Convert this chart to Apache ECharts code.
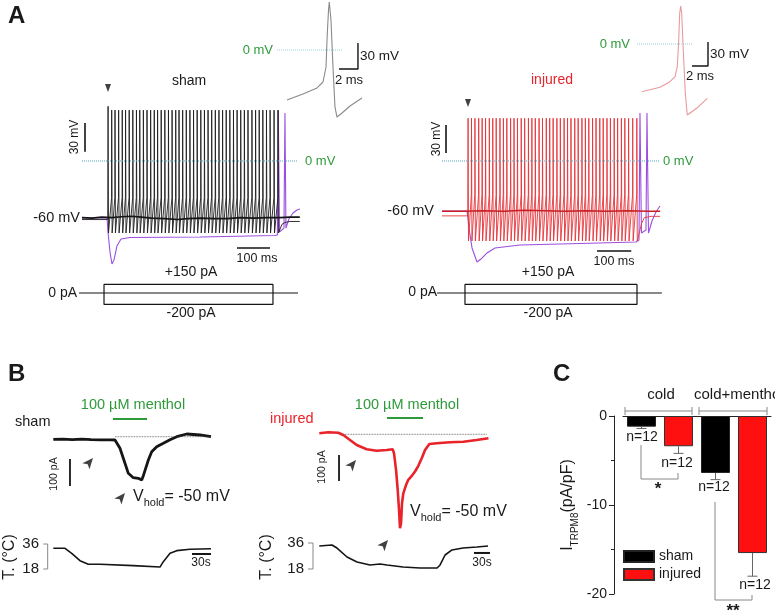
<!DOCTYPE html>
<html><head><meta charset="utf-8">
<script src="https://cdn.jsdelivr.net/npm/echarts@6.0.0/dist/echarts.min.js"></script>
<style>html,body{margin:0;padding:0;background:#fff}#c{width:775px;height:614px}</style>
</head><body><div id="c"></div><script>
// ---------------- DATA ----------------
// Panel A: spike trains (ms) and levels (mV)
const shamSpikeTimes = [79,90,100,111,122,132,143,154,165,175,186,197,208,219,229,240,251,262,273,284,294,305,316,327,338,349,360,371,382,393,404,415,426,437,448,459,470,481,492,503,515,526,537,548,559,570,582,594];
const injSpikeTimes = [76,86,96,107,117,127,138,148,158,169,179,189,200,210,220,231,241,252,262,272,283,293,304,314,324,335,345,356,366,376,387,397,408,418,428,439,449,460,470,481,491,502,512,523,533,544,556,568];
const shamSpikeLevels = [-38, 53, 57, -75];   // threshold, peak, first peak, trough
const injSpikeLevels = [-36, 46, 46, -86];
const shamRest = [[0,-61],[78,-61]];
const shamAfter = [[600,-71],[606,-66],[615,-64],[630,-63],[660,-63]];
const injRest = [[0,-59],[75,-59]];
const injAfter = [[575,-84],[582,-67],[590,-61],[610,-59.5],[636,-59.5]];
const shamFlat = [[0,-59],[30,-59.5],[60,-58.5],[90,-59],[120,-58],[150,-57.5],[180,-58.5],[210,-59.5],[250,-60],[290,-61],[320,-60],[360,-59.5],[400,-60],[440,-60],[480,-59],[520,-59.5],[560,-59],[600,-59],[630,-58.5],[660,-58.5]];
const injFlat = [[0,-54],[60,-54],[120,-53.5],[180,-54],[240,-53],[300,-53.5],[360,-54],[420,-53.5],[480,-54],[540,-53.5],[600,-54],[636,-54]];
const shamPurple = [[0,-59.4],[75.8,-59.4],[78.8,-74],[84.8,-94.8],[90.9,-107.3],[97,-103],[106,-88.5],[118.2,-81.3],[145.5,-79.7],[357.6,-79.2],[584.8,-77.6],[592,-77],[594.8,53],[598.5,-74],[612,-70],[615,50],[618,-70],[627,-60.4],[639.3,-54.2],[651.5,-51],[660.5,-50]];
const injPurple = [[0,-53.8],[72.9,-53.8],[78.7,-72],[87.5,-93.5],[102,-108.6],[113.7,-105.4],[131.2,-98.9],[154.5,-93.5],[227.4,-90.3],[402.3,-88.7],[565.5,-87.1],[574.3,-85],[577.2,51.6],[581.5,-77.4],[594.7,-74.2],[597.6,51.6],[602,-77.4],[612.2,-64.5],[623.8,-54.8],[635.5,-48.4]];
const shamInset = [[0,-57.7],[1.68,-50.7],[3.16,-43.8],[3.79,-36.9],[4.11,-19.6],[4.21,11.5],[4.37,46.1],[4.45,55.4],[4.63,34.6],[4.84,-19.6],[5.05,-65.7],[5.26,-77.3],[5.79,-72.7],[6.63,-64.6],[7.89,-55.4]];
const injInset = [[-0.04,-59.6],[2.25,-54.1],[3.5,-47.1],[4.13,-40.9],[4.41,-28.4],[4.59,5],[4.71,38.4],[4.84,47.5],[4.96,38.4],[5.16,-7.5],[5.41,-61.6],[5.66,-88.75],[5.88,-90.9],[6.84,-80.4],[8.16,-67.9]];
const shamStepOnOff = [66.7, 578.7];
const injStepOnOff = [67, 568.5];
const stepAmps = [150, -200];

// Panel B: TRPM8 currents (s, pA) and bath temperature (s, °C)
const shamCurrent = [[0,0],[15,1],[30,-1],[45,1],[60,-1],[75,-2],[90,-2],[97.6,-2.6],[105.5,-33.3],[113.4,-88.9],[118.7,-126],[126.6,-142.2],[134.5,-144.4],[137,-140],[139.9,-150.7],[142,-138],[145.1,-132.2],[150.4,-76.7],[155.7,-46],[163.6,-27.4],[174.1,-14.8],[184.7,-1.9],[195.3,9.6],[211.1,19.6],[232.1,16],[249.5,9.6]];
const shamTemp = [[0,32.9],[18.5,32.9],[29.1,29.3],[42.2,24],[55.4,21.4],[73.9,21.4],[126.6,20.4],[168.8,19.4],[174.1,23.3],[184.7,29.3],[195.3,31.2],[216.3,32.2],[249.5,32.6]];
const injCurrent = [[0,0],[16.9,3.8],[35.6,2.3],[45,-6.5],[57.6,-25.8],[70.2,-45],[88.9,-61.5],[107.7,-66.9],[126.5,-64.2],[137.8,-61.5],[140.2,-76.9],[144,-141],[147.1,-218],[149.6,-295],[151.4,-365],[153.3,-346],[155.2,-269],[157.6,-231],[162.7,-199],[167,-179],[173.4,-164],[179.6,-147],[185.8,-125],[192.2,-96],[198.4,-64],[206.5,-41],[220.3,-38.5],[245.2,-34.6],[270.2,-32.3],[295.3,-25.8],[317.3,-19.2]];
const injTemp = [[0,33.9],[23.8,34.6],[33.2,32.5],[52,26.3],[70.7,22.8],[95.1,20.8],[113.9,21.5],[127,20.8],[157,19.4],[189,18.7],[221,18.7],[226.6,20.8],[236,27.7],[249,31.2],[269.6,32.5],[295.9,33.2],[316.5,33.9]];
const shamMenthol = [94.5, 148.3];
const injMenthol = [127, 194.6];
const shamArrows = [[62.8,-69],[113.4,-199]];
const injArrows = [[68.9,-102.7],[128.9,-410]];

// Panel C: I_TRPM8 (pA/pF)
const barCategories = ['cold', 'cold+menthol'];
const shamMeans = [-1.2, -6.4];
const injMeans = [-3.4, -15.4];
const shamErr = [0.2, 0.75];
const injErr = [0.8, 2.6];
const yTicksC = [0, -10, -20];

// ---------------- LAYOUT ----------------
const FONT = '"Liberation Sans", Arial, Helvetica, sans-serif';
const BLACK = '#151515', RED = '#e8232a', PURPLE = '#9b4fe0', GREEN = '#2e9a3a', TEAL = '#55a9c2';

// box [l,t,r,b]; x:[refPx, refVal, unitsPerPx]; y:[refPx, refVal, unitsPerPx]
const layouts = [
  {box:[60,78,312,276],  x:[82,0,100/33],    y:[161,0,1/0.96]},
  {box:[268,0,372,126],  x:[287,0,1/9.5],    y:[50,0,1/0.867]},
  {box:[70,277,305,311], x:[82,0,100/33],    y:[293,0,1/0.0571]},
  {box:[425,84,672,276], x:[442,0,100/34.3], y:[161,0,1/0.93]},
  {box:[628,0,722,126],  x:[642,0,1/8],      y:[44,0,1/0.8]},
  {box:[430,277,672,311],x:[442,0,100/34.3], y:[293,0,1/0.0571]},
  {box:[38,408,216,506], x:[53.3,0,1/0.632], y:[439.3,0,1/0.27]},
  {box:[38,538,216,576], x:[53.3,0,1/0.632], y:[544,36,1/1.389]},
  {box:[300,408,496,548],x:[319.3,0,1/0.533],y:[433.3,0,1/0.26]},
  {box:[300,538,496,576],x:[319.3,0,1/0.533],y:[543,36,1/1.444]}
];
const grids = [], xAxes = [], yAxes = [];
layouts.forEach((L, i) => {
  const [l,t,r,b] = L.box;
  grids.push({left:l, top:t, width:r-l, height:b-t, outerBoundsMode:'none'});
  xAxes.push({type:'value', gridIndex:i, show:false, min:L.x[1]+(l-L.x[0])*L.x[2], max:L.x[1]+(r-L.x[0])*L.x[2]});
  yAxes.push({type:'value', gridIndex:i, show:false, max:L.y[1]+(L.y[0]-t)*L.y[2], min:L.y[1]-(b-L.y[0])*L.y[2]});
});
// Panel C grid
grids.push({left:623, top:416, width:148, height:178, outerBoundsMode:'none'});
xAxes.push({type:'category', gridIndex:10, data:barCategories, position:'top',
  axisLine:{show:true, lineStyle:{color:'#222', width:1}}, axisTick:{show:false}, axisLabel:{show:false}});
yAxes.push({type:'value', gridIndex:10, min:yTicksC[2], max:yTicksC[0], interval:10, offset:9,
  axisLine:{show:true, lineStyle:{color:'#222', width:1}},
  axisTick:{show:true, length:5, lineStyle:{color:'#222'}},
  minorTick:{show:true, splitNumber:2, length:3, lineStyle:{color:'#222'}},
  splitLine:{show:false},
  axisLabel:{fontSize:14, color:'#1a1a1a', fontFamily:FONT, margin:7},
  name:'{i|I}{s|TRPM8}{i|(pA/pF)}', nameLocation:'middle', nameRotate:90, nameGap:34,
  nameTextStyle:{rich:{
    i:{fontSize:16, fontFamily:FONT, color:'#1a1a1a', lineHeight:24, verticalAlign:'middle'},
    s:{fontSize:10, fontFamily:FONT, color:'#1a1a1a', lineHeight:13, verticalAlign:'bottom'}}}
});

// ---------------- SERIES ----------------
const series = [];
function line(gi, data, color, width, type, z) {
  series.push({type:'line', xAxisIndex:gi, yAxisIndex:gi, data, symbol:'none', showSymbol:false,
    silent:true, animation:false, clip:false, z:z||2,
    lineStyle:{color, width, type:type||'solid', join:'bevel', cap:'butt'}});
}
function marks(gi, data, symbol, size, rot) {
  series.push({type:'scatter', xAxisIndex:gi, yAxisIndex:gi, data, symbol, symbolSize:size, symbolRotate:rot,
    silent:true, animation:false, itemStyle:{color:'#111'}, z:5});
}
function buildSpikes(times, lv, pre, post) {
  const pts = pre.slice();
  times.forEach((t, i) => {
    if (i > 0) pts.push([t - 0.4, lv[0]]);
    pts.push([t, i === 0 ? lv[2] : lv[1]]);
    pts.push([t + 1.3, lv[3]]);
  });
  return pts.concat(post);
}
function rect(on, off) {
  return [[on,0],[on,stepAmps[0]],[off,stepAmps[0]],[off,stepAmps[1]],[on,stepAmps[1]],[on,0]];
}
// A sham
line(0, shamPurple, PURPLE, 1.1);
line(0, buildSpikes(shamSpikeTimes, shamSpikeLevels, shamRest, shamAfter), '#1e1e1e', 0.9);
line(0, shamFlat, BLACK, 1.6, 'solid', 3);
line(0, [[0,0],[654.5,0]], TEAL, 1, 'dotted', 4);
line(0, [[9.1,39.6],[9.1,9.6]], BLACK, 1.6);
line(0, [[469.7,-90.6],[569.7,-90.6]], BLACK, 1.6);
marks(0, [[78.8,76]], 'triangle', [6,8], 180);
line(1, shamInset, '#8a8a8a', 1.1);
line(1, [[-1.05,0],[5.79,0]], '#9ccbd6', 1, 'dotted');
line(1, [[5.47,-21.9],[7.47,-21.9],[7.47,8.1]], BLACK, 1.4);
line(2, [[-9,0],[654.5,0]], BLACK, 1.2);
line(2, rect(shamStepOnOff[0], shamStepOnOff[1]), BLACK, 1.2);
// A injured
line(3, injPurple, PURPLE, 1.1);
line(3, buildSpikes(injSpikeTimes, injSpikeLevels, injRest, injAfter), '#e5343a', 0.9);
line(3, injFlat, '#c81e24', 1.6, 'solid', 3);
line(3, [[0,0],[635.5,0]], TEAL, 1, 'dotted', 4);
line(3, [[11.7,38.7],[11.7,8.7]], BLACK, 1.6);
line(3, [[451.8,-96.8],[551.8,-96.8]], BLACK, 1.6);
marks(3, [[75.8,62.4]], 'triangle', [6,8], 180);
line(4, injInset, '#e99a9a', 1.1);
line(4, [[-0.625,0],[6.375,0]], '#9ccbd6', 1, 'dotted');
line(4, [[6.25,-27.5],[8.25,-27.5],[8.25,2.5]], BLACK, 1.4);
line(5, [[-14.6,0],[641,0]], BLACK, 1.2);
line(5, rect(injStepOnOff[0], injStepOnOff[1]), BLACK, 1.2);
// B sham
line(6, shamCurrent, BLACK, 2.8);
line(6, [[97.6,9.6],[249.5,9.6]], '#444', 0.8, 'dotted');
line(6, [[26.4,-73],[26.4,-173]], BLACK, 1.8);
line(6, [[shamMenthol[0],75.2],[shamMenthol[1],75.2]], GREEN, 2);
marks(6, shamArrows, 'arrow', [7,11], -40);
line(7, shamTemp, BLACK, 1.6);
line(7, [[-15.8,36],[-8.9,36],[-8.9,18],[-15.8,18]], '#888', 1);
line(7, [[219.5,28.8],[249.5,28.8]], BLACK, 2);
// B injured
line(8, injCurrent, RED, 2.6);
line(8, [[48.2,-3.8],[314.6,-3.8]], '#444', 0.8, 'dotted');
line(8, [[37,-83.5],[37,-183.5]], BLACK, 1.8);
line(8, [[injMenthol[0],58.8],[injMenthol[1],58.8]], GREEN, 2);
marks(8, injArrows, 'arrow', [7,11], -40);
line(9, injTemp, BLACK, 1.6);
line(9, [[-21,36],[-11.8,36],[-11.8,18],[-21,18]], '#888', 1);
line(9, [[290.2,29.1],[320.2,29.1]], BLACK, 2);
// C bars
series.push({type:'bar', name:'sham', xAxisIndex:10, yAxisIndex:10, data:shamMeans, barWidth:29, barGap:'27.6%',
  itemStyle:{color:'#000', borderColor:'#222', borderWidth:1}, animation:false, silent:true});
series.push({type:'bar', name:'injured', xAxisIndex:10, yAxisIndex:10, data:injMeans, barWidth:29, barGap:'27.6%',
  itemStyle:{color:'#ff1010', borderColor:'#333', borderWidth:1}, animation:false, silent:true});
function errSeries(vals, errs, off) {
  series.push({type:'custom', xAxisIndex:10, yAxisIndex:10, silent:true, animation:false, z:3,
    data: vals.map((v, i) => [i, v, errs[i]]),
    renderItem: (p, api) => {
      const i = api.value(0), v = api.value(1), e = api.value(2);
      const a = api.coord([i, v]), b = api.coord([i, v - e]); const x = a[0] + off;
      return {type:'group', children:[
        {type:'line', shape:{x1:x, y1:a[1], x2:x, y2:b[1]}, style:{stroke:'#666', lineWidth:1}},
        {type:'line', shape:{x1:x-5, y1:b[1], x2:x+5, y2:b[1]}, style:{stroke:'#666', lineWidth:1}}]};
    }});
}
errSeries(shamMeans, shamErr, -18.5);
errSeries(injMeans, injErr, 18.5);

// ---------------- TEXT / ANNOTATIONS ----------------
function T(text, x, y, o) {
  o = o || {};
  const st = {text, x:0, y:0, fill:o.color || '#1a1a1a', font:(o.bold ? 'bold ' : '') + (o.size || 14) + 'px ' + FONT,
    align:o.align || 'center', verticalAlign:'middle'};
  if (o.rich) st.rich = o.rich;
  return {type:'text', x, y, rotation:o.rot || 0, silent:true, z:100, style:st};
}
function P(points, color) {
  return {type:'polyline', silent:true, z:100, shape:{points}, style:{stroke:color || '#888', lineWidth:1, fill:null}};
}
const R90 = Math.PI / 2;
const vRich = {
  v:{fontSize:16, fontFamily:FONT, fill:'#1a1a1a', lineHeight:22, verticalAlign:'middle'},
  s:{fontSize:11, fontFamily:FONT, fill:'#1a1a1a', lineHeight:13, verticalAlign:'bottom'}};
const graphic = [
  T('A', 8, 16, {size:24, bold:true, align:'left'}),
  T('sham', 189, 81), T('injured', 552, 80, {color:RED}),
  T('30 mV', 75, 137, {size:12, rot:R90}), T('30 mV', 437, 139, {size:12, rot:R90}),
  T('0 mV', 305, 161, {size:13, color:GREEN, align:'left'}), T('0 mV', 663, 161, {size:13, color:GREEN, align:'left'}),
  T('-60 mV', 80, 218, {size:14.5, align:'right'}), T('-60 mV', 434, 211, {size:14.5, align:'right'}),
  T('100 ms', 257, 259, {size:12.5}), T('100 ms', 614, 262, {size:12.5}),
  T('+150 pA', 191, 272), T('+150 pA', 548, 272),
  T('0 pA', 77, 293, {align:'right'}), T('0 pA', 437, 292, {align:'right'}),
  T('-200 pA', 191, 313), T('-200 pA', 548, 313),
  T('0 mV', 273, 50, {size:13, color:GREEN, align:'right'}), T('0 mV', 630, 44, {size:13, color:GREEN, align:'right'}),
  T('30 mV', 360, 56, {size:13.5, align:'left'}), T('30 mV', 710, 54, {size:13.5, align:'left'}),
  T('2 ms', 349, 80, {size:13}), T('2 ms', 700, 76, {size:13}),
  T('B', 8, 374, {size:24, bold:true, align:'left'}),
  T('sham', 15, 422, {size:14.5, align:'left'}), T('injured', 270, 419, {size:14.5, align:'left', color:RED}),
  T('100 µM menthol', 133, 405, {size:14.5, color:GREEN}), T('100 µM menthol', 407, 405, {size:14.5, color:GREEN}),
  T('100 pA', 54, 474, {size:10.5, rot:R90}), T('100 pA', 322, 467, {size:10.5, rot:R90}),
  T('{v|V}{s|hold}{v|= -50 mV}', 133, 497, {align:'left', rich:vRich}),
  T('{v|V}{s|hold}{v|= -50 mV}', 410, 512, {align:'left', rich:vRich}),
  T('T. (°C)', 10, 557, {size:16, rot:R90}), T('T. (°C)', 267, 557, {size:16, rot:R90}),
  T('36', 39, 544, {size:15, align:'right'}), T('18', 39, 569, {size:15, align:'right'}),
  T('36', 304, 543, {size:15, align:'right'}), T('18', 304, 569, {size:15, align:'right'}),
  T('30s', 201, 563, {size:12}), T('30s', 482, 563, {size:12}),
  T('C', 553, 374, {size:24, bold:true, align:'left'}),
  T('cold', 661, 395, {size:15}), T('cold+menthol', 694, 395, {size:15, align:'left'}),
  T('n=12', 642, 437), T('n=12', 677, 463), T('n=12', 714, 487), T('n=12', 755, 585),
  T('*', 658, 489, {size:17, bold:true}), T('**', 733, 611, {size:17, bold:true}),
  P([[625,411],[692,411]]), P([[625,407],[625,415]]), P([[692,407],[692,415]]),
  P([[699,411],[767,411]]), P([[699,407],[699,415]]), P([[767,407],[767,415]]),
  P([[641,445],[641,479],[678,479],[678,473]]),
  P([[715,502],[715,600],[752,600],[752,595]])
];

const chart = echarts.init(document.getElementById('c'), null, {renderer:'canvas'});
chart.setOption({
  animation:false, backgroundColor:'#fff',
  grid:grids, xAxis:xAxes, yAxis:yAxes, series, graphic,
  legend:{data:['sham','injured'], left:623, top:549, padding:0, orient:'vertical', icon:'rect', itemWidth:30, itemHeight:11,
    itemGap:3, selectedMode:false, textStyle:{fontSize:14, color:'#1a1a1a', fontFamily:FONT, lineHeight:15}}
});
</script></body></html>
